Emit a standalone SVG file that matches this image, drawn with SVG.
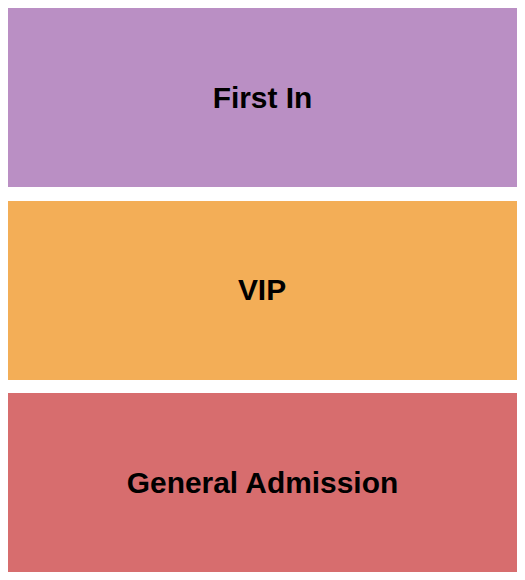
<svg xmlns="http://www.w3.org/2000/svg" width="525" height="580" viewBox="0 0 525 580">
<style>
.sec{stroke:none}
.lbl{font-family:"Liberation Sans",Arial,sans-serif;font-weight:bold;font-size:29.9px;fill:#000;text-anchor:middle}
</style>
<rect width="525" height="580" fill="#ffffff"/>
<g id="first-in">
<rect class="sec" x="8" y="8" width="509" height="179" fill="#BA8FC4"/>
<text class="lbl" x="262.5" y="107.5">First In</text>
</g>
<g id="vip">
<rect class="sec" x="8" y="201" width="509" height="179" fill="#F3AE57"/>
<text class="lbl" x="262" y="300.2">VIP</text>
</g>
<g id="general-admission">
<rect class="sec" x="8" y="393" width="509" height="179" fill="#D76D6E"/>
<text class="lbl" x="262.5" y="492.5">General Admission</text>
</g>
<g id="connectors"/>
</svg>
